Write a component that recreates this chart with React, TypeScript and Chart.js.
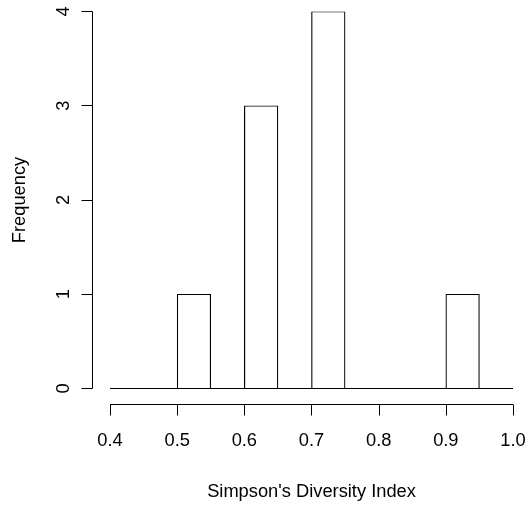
import React, { useEffect, useRef } from "react";
import { Chart, registerables } from "chart.js";

Chart.register(...registerables);

const binStarts = [0.4, 0.45, 0.5, 0.55, 0.6, 0.65, 0.7, 0.75, 0.8, 0.85, 0.9, 0.95];
const binWidth = 0.05;
const counts = [0, 0, 1, 0, 3, 0, 4, 0, 0, 0, 1, 0];
const xTicks = [0.4, 0.5, 0.6, 0.7, 0.8, 0.9, 1.0];
const xTickLabels = ["0.4", "0.5", "0.6", "0.7", "0.8", "0.9", "1.0"];
const yTicks = [0, 1, 2, 3, 4];
const yTickLabels = ["0", "1", "2", "3", "4"];
const xTitle = "Simpson's Diversity Index";
const yTitle = "Frequency";

const FONT = '18.3px "Liberation Sans", Arial, Helvetica, sans-serif';

const rAxesPlugin = {
  id: "rAxes",
  afterDatasetsDraw(chart: any) {
    const ctx = chart.ctx;
    const xs = chart.scales.x;
    const ys = chart.scales.y;
    ctx.save();
    ctx.strokeStyle = "#000";
    ctx.fillStyle = "#000";
    ctx.lineWidth = 1;
    // baseline of histogram (zero-height bins)
    const y0 = Math.floor(ys.getPixelForValue(0)) + 0.5;
    ctx.beginPath();
    ctx.moveTo(xs.getPixelForValue(binStarts[0]), y0);
    ctx.lineTo(xs.getPixelForValue(binStarts[binStarts.length - 1] + binWidth), y0);
    ctx.stroke();

    // y axis (R-style, offset)
    const yAxisX = 92.5;
    ctx.beginPath();
    ctx.moveTo(yAxisX, ys.getPixelForValue(yTicks[0]));
    ctx.lineTo(yAxisX, ys.getPixelForValue(yTicks[yTicks.length - 1]));
    yTicks.forEach((t) => {
      const py = Math.floor(ys.getPixelForValue(t)) + 0.5;
      ctx.moveTo(yAxisX, py);
      ctx.lineTo(yAxisX - 11, py);
    });
    ctx.stroke();
    ctx.font = FONT;
    ctx.textAlign = "center";
    ctx.textBaseline = "middle";
    yTicks.forEach((t, i) => {
      const py = ys.getPixelForValue(t);
      ctx.save();
      ctx.translate(64, py);
      ctx.rotate(-Math.PI / 2);
      ctx.fillText(yTickLabels[i], 0, 0);
      ctx.restore();
    });

    // x axis
    const xAxisY = 404.5;
    ctx.beginPath();
    ctx.moveTo(xs.getPixelForValue(xTicks[0]), xAxisY);
    ctx.lineTo(xs.getPixelForValue(xTicks[xTicks.length - 1]), xAxisY);
    xTicks.forEach((t) => {
      const px = Math.round(xs.getPixelForValue(t)) + 0.5;
      ctx.moveTo(px, xAxisY);
      ctx.lineTo(px, xAxisY + 11);
    });
    ctx.stroke();
    xTicks.forEach((t, i) => {
      ctx.fillText(xTickLabels[i], xs.getPixelForValue(t), 441);
    });

    // titles
    ctx.fillText(xTitle, (xs.left + xs.right) / 2, 492);
    ctx.save();
    ctx.translate(20, (ys.top + ys.bottom) / 2);
    ctx.rotate(-Math.PI / 2);
    ctx.fillText(yTitle, 0, 0);
    ctx.restore();
    ctx.restore();
  },
};

export default function App() {
  const ref = useRef<HTMLCanvasElement | null>(null);
  useEffect(() => {
    document.body.style.margin = "0";
    const canvas = ref.current!;
    const chart = new Chart(canvas, {
      type: "bar",
      data: {
        datasets: [
          {
            data: binStarts.map((s, i) => ({ x: s + binWidth / 2, y: counts[i] })),
            backgroundColor: "#ffffff",
            borderColor: "#000000",
            borderWidth: 1.2,
            borderSkipped: "bottom",
            barPercentage: 1,
            categoryPercentage: 1,
            grouped: false,
          } as any,
        ],
      },
      options: {
        responsive: false,
        animation: false,
        devicePixelRatio: 1,
        layout: { padding: { left: 110, right: 16, top: 11.5, bottom: 117.5 } },
        plugins: { legend: { display: false }, tooltip: { enabled: false } },
        scales: {
          x: { type: "linear", min: 0.4, max: 1.0, display: false, offset: false },
          y: { type: "linear", min: 0, max: 4, display: false },
        },
      },
      plugins: [rAxesPlugin],
    });
    return () => chart.destroy();
  }, []);
  return (
    <div style={{ position: "absolute", left: 0, top: 0, width: 529, height: 506, background: "#fff" }}>
      <canvas ref={ref} width={529} height={506} />
    </div>
  );
}
